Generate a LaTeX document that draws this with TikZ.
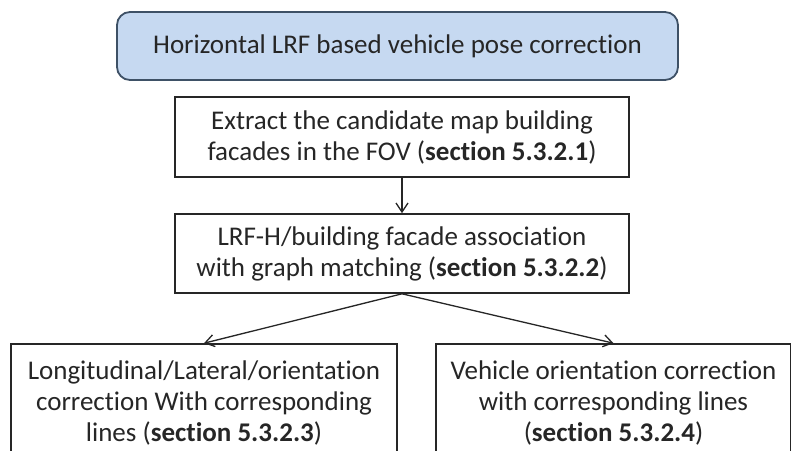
\documentclass[tikz,border=0pt]{standalone}
\usepackage{fontspec}
\setmainfont[Ligatures=NoCommon]{Carlito}
\usepackage{tikz}
\usetikzlibrary{arrows.meta,positioning}
\definecolor{paleblue}{HTML}{C6D9F1}
\definecolor{slate}{HTML}{3E5166}
\definecolor{ink}{HTML}{262626}

\begin{document}
\begin{tikzpicture}[x=1pt,y=-1pt,>={Straight Barb[length=9pt,width=12pt]},
 every node/.style={font=\fontsize{27}{31}\selectfont,text=ink,align=center,inner sep=0pt},
 stepbox/.style={draw=ink,line width=1.6pt,minimum height=80pt},
 headbox/.style={draw=slate,line width=1.8pt,fill=paleblue,rounded corners=13pt,minimum width=561pt,minimum height=68pt},
 link/.style={->,draw=ink,line width=1.3pt}]
\useasboundingbox (0,0) rectangle (791,450);
\clip (0,0) rectangle (791,450);
\node[headbox] (head) at (397.5,46) {Horizontal LRF based vehicle pose correction};
\node[stepbox,minimum width=454pt] (extract) at (402,137)
 {Extract the candidate map building\\facades in the FOV (\textbf{section 5.3.2.1})};
\node[stepbox,minimum width=454pt,minimum height=79pt] (assoc) at (402,253.5)
 {LRF-H/building facade association\\with graph matching (\textbf{section 5.3.2.2})};
\node[stepbox,minimum width=386pt,minimum height=118pt] (longlat) at (204,403)
 {Longitudinal/Lateral/orientation\\correction With corresponding\\lines (\textbf{section 5.3.2.3})};
\node[stepbox,minimum width=355pt,minimum height=118pt] (orient) at (613.5,403)
 {Vehicle orientation correction\\with corresponding lines\\(\textbf{section 5.3.2.4})};
\draw[link] (extract) -- (assoc);
\foreach \t in {longlat,orient}
 \draw[link] (assoc.south) -- (\t.north);
\end{tikzpicture}
\end{document}
